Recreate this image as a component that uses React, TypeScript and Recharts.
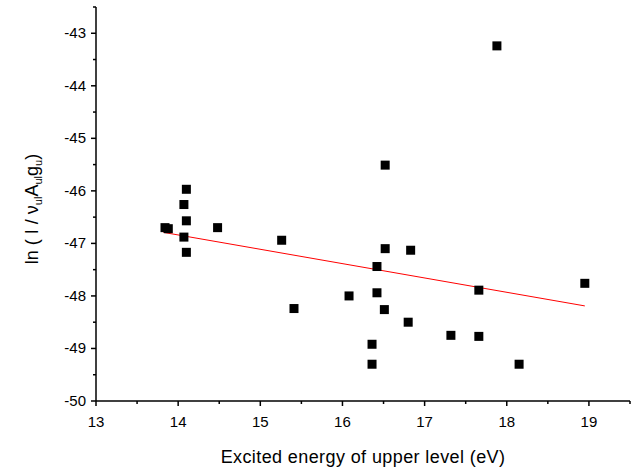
import { ScatterChart, Scatter, XAxis, YAxis } from 'recharts';

// measured points: excited energy (eV) vs ln(I / v A g)
const energy = [
  13.84, 13.88, 14.07, 14.10, 14.10, 14.07, 14.10, 14.48, 15.26, 15.41,
  16.08, 16.42, 16.42, 16.52, 16.52, 16.51, 16.80, 16.36, 16.36, 16.83,
  17.32, 17.66, 17.66, 17.88, 18.15, 18.95,
];
const lnIntensity = [
  -46.70, -46.72, -46.26, -45.97, -46.57, -46.88, -47.17, -46.70, -46.94, -48.24,
  -48.00, -47.44, -47.94, -45.51, -47.10, -48.26, -48.50, -48.92, -49.30, -47.13,
  -48.75, -47.89, -48.77, -43.24, -49.30, -47.76,
];

// linear fit end points
const fitEnergy = [13.82, 18.95];
const fitLn = [-46.79, -48.19];

const xTicks = [13, 13.5, 14, 14.5, 15, 15.5, 16, 16.5, 17, 17.5, 18, 18.5, 19, 19.5];
const yTicks = [-50, -49.5, -49, -48.5, -48, -47.5, -47, -46.5, -46, -45.5, -45, -44.5, -44, -43.5, -43, -42.5];

const points = energy.map((x, i) => ({ x, y: lnIntensity[i] }));
const fit = fitEnergy.map((x, i) => ({ x, y: fitLn[i] }));

const FONT = 'Liberation Sans, Arial, sans-serif';

const XTick = ({ x, y, payload }: any) => {
  const major = Number.isInteger(payload.value);
  return (
    <g>
      <line x1={x} x2={x} y1={y} y2={y + (major ? 5 : 3)} stroke="#000" strokeWidth={1.5} />
      {major && (
        <text x={x} y={y + 26} textAnchor="middle" fontSize={15} fontFamily={FONT} fill="#000">
          {payload.value}
        </text>
      )}
    </g>
  );
};

const YTick = ({ x, y, payload }: any) => {
  const major = Number.isInteger(payload.value);
  return (
    <g>
      <line x1={x} x2={x - (major ? 5 : 3)} y1={y} y2={y} stroke="#000" strokeWidth={1.5} />
      {major && (
        <text x={x - 10} y={y + 5} textAnchor="end" fontSize={15} fontFamily={FONT} fill="#000">
          {payload.value}
        </text>
      )}
    </g>
  );
};

const Square = (p: any) => <rect x={p.cx - 4.5} y={p.cy - 4.5} width={9} height={9} fill="#000" />;
const NoDot = () => <g />;

const YTitle = () => (
  <text
    transform="translate(38, 209) rotate(-90)"
    textAnchor="middle"
    fontSize={18}
    fontFamily={FONT}
    fill="#000"
  >
    ln ( I / ν
    <tspan fontSize={11} dy={4}>ul</tspan>
    <tspan dy={-4}>A</tspan>
    <tspan fontSize={11} dy={4}>ul</tspan>
    <tspan dy={-4}>g</tspan>
    <tspan fontSize={11} dy={4}>u</tspan>
    <tspan dy={-4}>)</tspan>
  </text>
);

export default function App() {
  return (
    <div style={{ position: 'absolute', left: 0, top: 0, fontFamily: FONT }}>
      <ScatterChart width={635} height={467} margin={{ top: 7, right: 5, bottom: 0, left: 36 }}>
        <XAxis
          type="number"
          dataKey="x"
          domain={[13, 19.5]}
          ticks={xTicks}
          interval={0}
          height={66}
          tickSize={0}
          tickMargin={0}
          tick={<XTick />}
          axisLine={{ stroke: '#000', strokeWidth: 1.5 }}
          label={{
            value: 'Excited energy of upper level (eV)',
            position: 'insideBottom',
            offset: 4,
            fontSize: 18,
            letterSpacing: 0.4,
            fontFamily: FONT,
            fill: '#000',
          }}
        />
        <YAxis
          type="number"
          dataKey="y"
          domain={[-50, -42.5]}
          ticks={yTicks}
          interval={0}
          width={60}
          tickSize={0}
          tickMargin={0}
          tick={<YTick />}
          axisLine={{ stroke: '#000', strokeWidth: 1.5 }}
          label={{ content: () => <YTitle /> }}
        />
        <Scatter data={fit} line={{ stroke: '#ff0000', strokeWidth: 1 }} shape={NoDot} isAnimationActive={false} />
        <Scatter data={points} shape={Square} isAnimationActive={false} />
      </ScatterChart>
    </div>
  );
}
